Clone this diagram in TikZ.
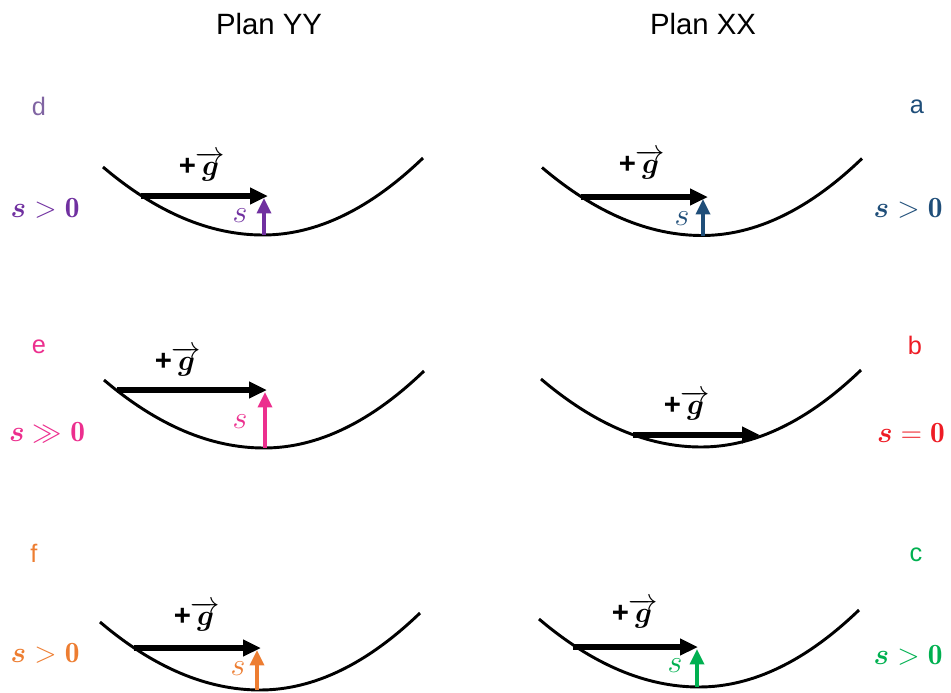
\documentclass[tikz,border=0pt]{standalone}
\usepackage{fix-cm}
\usepackage{amsmath}
\usepackage{fontspec}
\setsansfont{Liberation Sans}
\usetikzlibrary{arrows.meta}
\definecolor{cpurple}{HTML}{7030A0}
\definecolor{cpurplel}{HTML}{8064A2}
\definecolor{cblue}{HTML}{1F4E79}
\definecolor{cpink}{HTML}{EC2F8E}
\definecolor{cred}{HTML}{EE1C25}
\definecolor{corange}{HTML}{ED7D31}
\definecolor{cgreen}{HTML}{00B050}
\newcommand{\mybowl}{\draw[bowl] (103,167) .. controls (156.3,212.3) and (209.7,235) .. (263,235) .. controls (316.3,235) and (369.7,209.3) .. (423,158);}
\tikzset{
  bowl/.style={line width=2.2pt, black},
  garrow/.style={line width=3.8pt, -{Triangle[length=13.5pt,width=12pt]}},
  sarrow/.style={line width=2.6pt, -{Triangle[length=11.5pt,width=10.5pt]}},
  title/.style={font=\sffamily\fontsize{22}{26}\selectfont},
  letter/.style={font=\sffamily\fontsize{19}{22}\selectfont},
  cond/.style={font=\fontsize{22}{26}\selectfont, inner sep=0pt},
  glab/.style={font=\fontsize{22}{26}\selectfont, inner sep=0pt},
  slab/.style={font=\fontsize{24}{28}\selectfont, inner sep=0pt},
}
\newcommand{\gvec}{{\sffamily\bfseries +}$\overrightarrow{\boldsymbol{g}}$}
\begin{document}
\begin{tikzpicture}[x=0.75pt,y=-0.75pt]
\useasboundingbox (0,0) rectangle (951,693);
% titles
\node[title] (tYY) at (269,24) {Plan YY};
\node[title] (tXX) at (703,24) {Plan XX};
% bowls
\begin{scope}\mybowl\end{scope}
\begin{scope}[shift={(1,213)}]\mybowl\end{scope}
\begin{scope}[shift={(-3,455)}]\mybowl\end{scope}
\begin{scope}[shift={(439,0.5)}]\mybowl\end{scope}
\begin{scope}[shift={(438,212)}]\mybowl\end{scope}
\begin{scope}[shift={(436,452)}]\mybowl\end{scope}
% panel d
\node[letter, text=cpurplel] (ld) at (39,106) {d};
\node[cond, text=cpurple] (cd) at (45,208) {$\boldsymbol{s} > \mathbf{0}$};
\coordinate (dg1) at (141,196); \coordinate (dg2) at (268,196);
\draw[garrow] (dg1) -- (dg2);
\node[glab] (gd) at (202,166) {\gvec};
\coordinate (ds1) at (264,235); \coordinate (ds2) at (264,198);
\draw[sarrow, cpurple] (ds1) -- (ds2);
\node[slab, text=cpurple] (sd) at (240,216) {$s$};
% panel e
\node[letter, text=cpink] (le) at (39,347) {e};
\node[cond, text=cpink] (ce) at (47,432) {$\boldsymbol{s} \gg \mathbf{0}$};
\coordinate (eg1) at (117,390); \coordinate (eg2) at (267,390);
\draw[garrow] (eg1) -- (eg2);
\node[glab] (ge) at (178,361) {\gvec};
\coordinate (es1) at (265,448); \coordinate (es2) at (265,392);
\draw[sarrow, cpink] (es1) -- (es2);
\node[slab, text=cpink] (se) at (240,422) {$s$};
% panel f
\node[letter, text=corange] (lf) at (34,553) {f};
\node[cond, text=corange] (cf) at (45,653) {$\boldsymbol{s} > \mathbf{0}$};
\coordinate (fg1) at (134,648); \coordinate (fg2) at (261,648);
\draw[garrow] (fg1) -- (fg2);
\node[glab] (gf) at (197,616) {\gvec};
\coordinate (fs1) at (257,690); \coordinate (fs2) at (257,650);
\draw[sarrow, corange] (fs1) -- (fs2);
\node[slab, text=corange] (sf) at (238,669) {$s$};
% panel a
\node[letter, text=cblue] (la) at (917,107) {a};
\node[cond, text=cblue] (ca) at (908,208) {$\boldsymbol{s} > \mathbf{0}$};
\coordinate (ag1) at (581,197); \coordinate (ag2) at (708,197);
\draw[garrow] (ag1) -- (ag2);
\node[glab] (ga) at (642,164) {\gvec};
\coordinate (as1) at (703,236); \coordinate (as2) at (703,199);
\draw[sarrow, cblue] (as1) -- (as2);
\node[slab, text=cblue] (sa) at (682,219) {$s$};
% panel b
\node[letter, text=cred] (lb) at (915,345) {b};
\node[cond, text=cred] (cb) at (911,433) {$\boldsymbol{s} = \mathbf{0}$};
\coordinate (bg1) at (633,435); \coordinate (bg2) at (760,435);
\draw[garrow] (bg1) -- (bg2);
\node[glab] (gb) at (687,405) {\gvec};
% panel c
\node[letter, text=cgreen] (lc) at (916,555) {c};
\node[cond, text=cgreen] (cc) at (908,655) {$\boldsymbol{s} > \mathbf{0}$};
\coordinate (cg1) at (573,647); \coordinate (cg2) at (698,647);
\draw[garrow] (cg1) -- (cg2);
\node[glab] (gc) at (635,613) {\gvec};
\coordinate (cs1) at (697,687); \coordinate (cs2) at (697,649);
\draw[sarrow, cgreen] (cs1) -- (cs2);
\node[slab, text=cgreen] (sc) at (675,666) {$s$};
\end{tikzpicture}
\end{document}
